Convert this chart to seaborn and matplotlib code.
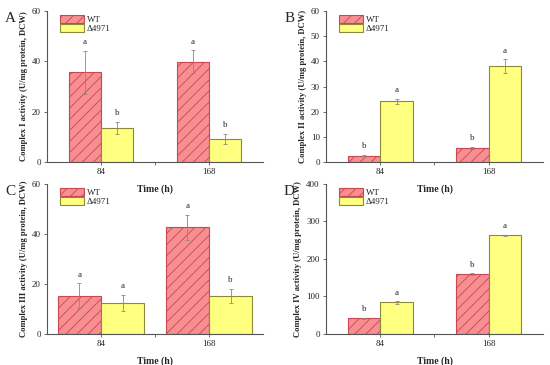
import matplotlib
matplotlib.use("Agg")
import matplotlib.pyplot as plt
import seaborn as sns
import pandas as pd

sns.set_style("ticks")
plt.rcParams['font.family'] = ['Liberation Serif', 'DejaVu Serif']
plt.rcParams['hatch.linewidth'] = 0.6

times = ["84", "168"]
strains = ["WT", "\u03944971"]

# values per panel: [WT@84, WT@168], [d4971@84, d4971@168]
c1_wt = [35.7, 39.9]
c1_mut = [13.7, 9.1]
c1_wt_err = [8.5, 4.5]
c1_mut_err = [2.4, 2.1]
c1_letters = [["a", "a"], ["b", "b"]]

c2_wt = [2.6, 5.7]
c2_mut = [24.2, 38.2]
c2_wt_err = [0.3, 0.4]
c2_mut_err = [1.0, 2.7]
c2_letters = [["b", "b"], ["a", "a"]]

c3_wt = [15.3, 42.6]
c3_mut = [12.4, 15.2]
c3_wt_err = [5.0, 5.0]
c3_mut_err = [3.2, 2.8]
c3_letters = [["a", "a"], ["a", "b"]]

c4_wt = [41.6, 160.0]
c4_mut = [84.0, 263.0]
c4_wt_err = [2.0, 2.0]
c4_mut_err = [3.0, 2.0]
c4_letters = [["b", "b"], ["a", "a"]]

wt_color = "#f68e92"
wt_edge = "#c8484f"
mut_color = "#ffff80"
mut_edge = "#8a8a3a"


def panel(ax, wt, mut, wt_err, mut_err, letters, ylabel, ymax, ystep, width, tag):
    df = pd.DataFrame({
        "time": times * 2,
        "strain": [strains[0]] * 2 + [strains[1]] * 2,
        "value": wt + mut,
    })
    sns.barplot(data=df, x="time", y="value", hue="strain", order=times,
                hue_order=strains, palette=[wt_color, mut_color],
                width=width, errorbar=None, saturation=1, ax=ax, legend=False)
    bars = list(ax.containers)
    errs = [wt_err, mut_err]
    for i, cont in enumerate(bars):
        for j, bar in enumerate(cont):
            bar.set_linewidth(0.8)
            if i == 0:
                bar.set_edgecolor(wt_edge)
                bar.set_hatch("///")
            else:
                bar.set_edgecolor(mut_edge)
            x = bar.get_x() + bar.get_width() / 2
            h = bar.get_height()
            ax.errorbar(x, h, yerr=errs[i][j], color="#888888", lw=0.6,
                        capsize=1.5, capthick=0.6)
            ax.text(x, h + errs[i][j] + ymax * 0.03, letters[i][j],
                    ha="center", va="bottom", fontsize=6.5)
    ax.patch.set_alpha(0)
    ax.set_xlim(-0.5, 1.5)
    ax.set_ylim(0, ymax)
    ax.set_yticks(range(0, ymax + 1, ystep))
    ax.set_xticks([0, 0.5, 1], labels=["84", "", "168"])
    ax.set_xlabel("Time (h)", fontsize=7, fontweight="bold", labelpad=6)
    ax.set_ylabel(ylabel, fontsize=6.2, fontweight="bold", labelpad=3)
    ax.tick_params(labelsize=6.5, length=2.5, width=0.6, color="#555555", pad=2)
    for s in ["left", "bottom"]:
        ax.spines[s].set_linewidth(0.8)
        ax.spines[s].set_color("#555555")
    sns.despine(ax=ax)
    ax.legend(handles=[bars[0][0], bars[1][0]], labels=strains,
              loc="upper left", bbox_to_anchor=(0.045, 1.0), frameon=False,
              fontsize=6.5, handlelength=2.6, handleheight=1.0,
              handletextpad=0.3, labelspacing=0.05, borderaxespad=0)
    ax.text(-0.17, 0.99, tag, transform=ax.transAxes, fontsize=11,
            ha="center", va="top")


fig = plt.figure(figsize=(5.5, 3.65), dpi=100)
axA = fig.add_axes([0.0855, 0.556, 0.3927, 0.414])
axB = fig.add_axes([0.5927, 0.556, 0.3945, 0.414])
axC = fig.add_axes([0.0855, 0.085, 0.3927, 0.411])
axD = fig.add_axes([0.5927, 0.085, 0.3945, 0.411])

panel(axA, c1_wt, c1_mut, c1_wt_err, c1_mut_err, c1_letters,
      "Complex I activity (U/mg protein, DCW)", 60, 20, 0.6, "A")
panel(axB, c2_wt, c2_mut, c2_wt_err, c2_mut_err, c2_letters,
      "Complex II activity (U/mg protein, DCW)", 60, 10, 0.6, "B")
panel(axC, c3_wt, c3_mut, c3_wt_err, c3_mut_err, c3_letters,
      "Complex III activity (U/mg protein, DCW)", 60, 20, 0.8, "C")
panel(axD, c4_wt, c4_mut, c4_wt_err, c4_mut_err, c4_letters,
      "Complex IV activity (U/mg protein, DCW)", 400, 100, 0.6, "D")

fig.savefig("out.png", dpi=100)
